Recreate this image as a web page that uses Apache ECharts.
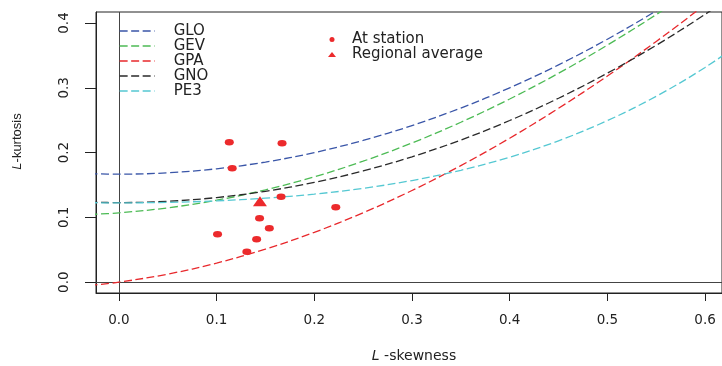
<!DOCTYPE html>
<html>
<head>
<meta charset="utf-8">
<script src="https://cdn.jsdelivr.net/npm/echarts@6/dist/echarts.min.js"></script>
<style>
  html, body { margin: 0; padding: 0; background: #ffffff; }
  #chart { width: 722px; height: 366px; }
</style>
</head>
<body>
<div id="chart"></div>
<script>
// L-skewness grid for theoretical curves
const skewGrid = [-0.03, 0, 0.05, 0.10, 0.15, 0.20, 0.25, 0.30, 0.35, 0.40, 0.45, 0.50, 0.55, 0.60, 0.65];
const gloKurt = [0.1674, 0.1667, 0.1688, 0.1750, 0.1854, 0.2000, 0.2188, 0.2417, 0.2688, 0.3000, 0.3354, 0.3750, 0.4188, 0.4667, 0.5188];
const gevKurt = [0.1045, 0.1070, 0.1147, 0.1265, 0.1425, 0.1626, 0.1867, 0.2148, 0.2468, 0.2827, 0.3224, 0.3659, 0.4130, 0.4638, 0.5182];
const gpaKurt = [-0.0051, 0.0000, 0.0124, 0.0294, 0.0510, 0.0769, 0.1071, 0.1415, 0.1799, 0.2222, 0.2684, 0.3182, 0.3716, 0.4286, 0.4889];
const gnoKurt = [0.1235, 0.1228, 0.1248, 0.1306, 0.1403, 0.1540, 0.1717, 0.1935, 0.2194, 0.2495, 0.2839, 0.3226, 0.3657, 0.4134, 0.4656];
const pe3Kurt = [0.1227, 0.1224, 0.1232, 0.1255, 0.1297, 0.1359, 0.1448, 0.1569, 0.1727, 0.1929, 0.2182, 0.2494, 0.2869, 0.3314, 0.3835];

// At-station sample L-moment ratios
const stationSkew = [0.113, 0.167, 0.116, 0.166, 0.222, 0.144, 0.154, 0.101, 0.141, 0.131];
const stationKurt = [0.216, 0.2145, 0.176, 0.132, 0.1157, 0.0988, 0.0833, 0.0741, 0.0663, 0.0468];

// Regional average
const regionalSkew = [0.1444];
const regionalKurt = [0.125];

// Tick labels
const xTicks = [0.0, 0.1, 0.2, 0.3, 0.4, 0.5, 0.6];
const yTicks = [0.0, 0.1, 0.2, 0.3, 0.4];

const curveNames = ['GLO', 'GEV', 'GPA', 'GNO', 'PE3'];
const curveData = [gloKurt, gevKurt, gpaKurt, gnoKurt, pe3Kurt];
const curveColors = ['#3A56A8', '#4DBB55', '#E8282C', '#2A2A2A', '#55C8D2'];

const FONT = 'DejaVu Sans';
const TXT = '#222222';
const RED = '#EC2A2C';

const zip = (xs, ys) => xs.map((x, i) => [x, ys[i]]);

const series = curveNames.map((name, k) => ({
  name: name,
  type: 'line',
  data: zip(skewGrid, curveData[k]),
  smooth: 0.35,
  symbol: 'none',
  silent: true,
  lineStyle: { color: curveColors[k], width: 1.3, type: [8, 3.5] },
  itemStyle: { color: curveColors[k], opacity: 0 },
  emphasis: { disabled: true },
  z: 3
}));

series[0].markLine = {
  silent: true,
  symbol: ['none', 'none'],
  label: { show: false },
  lineStyle: { type: 'solid', color: '#444', width: 1, opacity: 1 },
  emphasis: { disabled: true },
  data: [{ xAxis: 0 }, { yAxis: 0 }],
  z: 2
};

series.push({
  name: 'At station',
  type: 'scatter',
  data: zip(stationSkew, stationKurt),
  symbol: 'circle',
  symbolSize: [9, 6.5],
  itemStyle: { color: RED, opacity: 1 },
  silent: true,
  z: 5
});
series.push({
  name: 'Regional average',
  type: 'scatter',
  data: zip(regionalSkew, regionalKurt),
  symbol: 'triangle',
  symbolSize: [14, 10],
  itemStyle: { color: RED, opacity: 1 },
  silent: true,
  z: 6
});

const option = {
  animation: false,
  backgroundColor: '#ffffff',
  grid: {
    left: 96, right: -4, top: 12, bottom: 73,
    show: true, borderColor: '#222', borderWidth: 1, backgroundColor: 'transparent'
  },
  xAxis: {
    type: 'value',
    min: -0.0234, max: 0.6173,
    axisLine: { show: true, onZero: false, lineStyle: { color: '#222', width: 1 } },
    axisTick: { show: true, customValues: xTicks, length: 8, lineStyle: { color: '#222', width: 1 } },
    axisLabel: {
      customValues: xTicks, formatter: v => v.toFixed(1), margin: 20,
      fontFamily: FONT, fontSize: 13.5, color: TXT
    },
    splitLine: { show: false }
  },
  yAxis: {
    type: 'value',
    min: -0.0167, max: 0.4170,
    axisLine: { show: true, onZero: false, lineStyle: { color: '#222', width: 1 } },
    axisTick: { show: true, customValues: yTicks, length: 11, lineStyle: { color: '#222', width: 1 } },
    axisLabel: {
      customValues: yTicks, formatter: v => v.toFixed(1), rotate: 90, margin: 25,
      fontFamily: FONT, fontSize: 13.5, color: TXT
    },
    splitLine: { show: false }
  },
  legend: [
    {
      data: curveNames,
      orient: 'vertical', left: 119, top: 23.5, padding: 0, itemGap: 0,
      itemWidth: 35, itemHeight: 15, selectedMode: false,
      itemStyle: { opacity: 0 },
      lineStyle: { width: 1.3 },
      textStyle: { fontFamily: FONT, fontSize: 15, color: TXT, lineHeight: 15, padding: [0, 0, 0, 14] }
    },
    {
      data: ['At station', 'Regional average'],
      orient: 'vertical', left: 328, top: 32, padding: 0, itemGap: 0,
      itemWidth: 8, itemHeight: 5, symbolKeepAspect: false, selectedMode: false,
      textStyle: { fontFamily: FONT, fontSize: 15, color: TXT, lineHeight: 14.3, padding: [0, 0, 0, 11] }
    }
  ],
  graphic: [
    {
      type: 'text', x: 414, y: 356, silent: true,
      style: {
        text: '{i|L} -skewness',
        align: 'center', verticalAlign: 'middle', textAlign: 'center', textVerticalAlign: 'middle',
        fontFamily: FONT, fontSize: 14, fill: TXT,
        rich: { i: { fontStyle: 'italic', fontFamily: FONT, fontSize: 14, fill: TXT } }
      }
    },
    {
      type: 'text', x: 17, y: 141.5, rotation: Math.PI / 2, silent: true,
      style: {
        text: '{i|L}-kurtosis',
        align: 'center', verticalAlign: 'middle', textAlign: 'center', textVerticalAlign: 'middle',
        fontFamily: 'Liberation Sans', fontSize: 13, fill: TXT,
        rich: { i: { fontStyle: 'italic', fontFamily: 'Liberation Sans', fontSize: 13, fill: TXT } }
      }
    }
  ],
  series: series
};

const chart = echarts.init(document.getElementById('chart'), null, { renderer: 'canvas' });
chart.setOption(option);
</script>
</body>
</html>
